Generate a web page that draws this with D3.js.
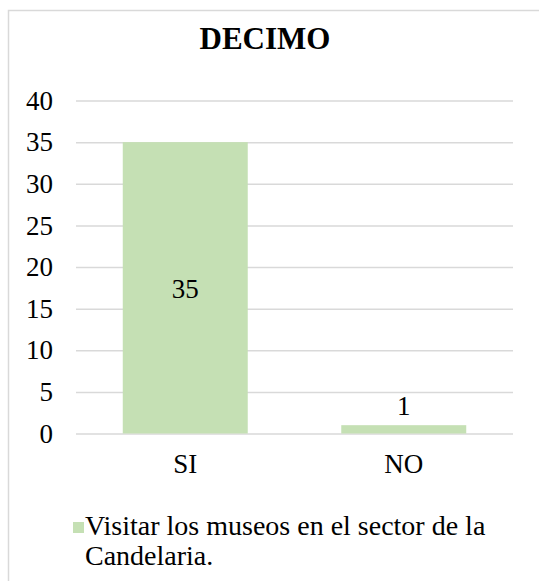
<!DOCTYPE html>
<html>
<head>
<meta charset="utf-8">
<script src="https://cdn.jsdelivr.net/npm/d3@7"></script>
<style>
  body { margin: 0; background: #fff; }
</style>
</head>
<body>
<div class="chart"></div>
<script>
const categories = ['SI', 'NO'];
const values = [35, 1];
const yTicks = [0, 5, 10, 15, 20, 25, 30, 35, 40];
const seriesName = ['Visitar los museos en el sector de la', 'Candelaria.'];
const title = 'DECIMO';

const font = 'Liberation Serif, Times New Roman, serif';

const width = 539,
  height = 581,
  margin = { top: 100.5, right: 26, bottom: 147.5, left: 76 },
  innerWidth = width - margin.left - margin.right,
  innerHeight = height - margin.top - margin.bottom;

const svg = d3.select('.chart')
  .append('svg')
  .attr('width', width)
  .attr('height', height)
  .attr('font-family', font);

// chart frame (runs past the right and bottom edge of the picture)
svg.append('path')
  .attr('d', `M8.5,${height}V10.5H${width}`)
  .attr('fill', 'none')
  .attr('stroke', '#d9d9d9')
  .attr('stroke-width', 1.5);

svg.append('text')
  .attr('x', 265)
  .attr('y', 49)
  .attr('text-anchor', 'middle')
  .attr('font-family', font)
  .attr('font-size', 31)
  .attr('font-weight', 'bold')
  .text(title);

const g = svg.append('g')
  .attr('transform', `translate(${margin.left}, ${margin.top})`);

const x = d3.scaleBand()
  .domain(categories)
  .range([0, innerWidth])
  .paddingInner(0.428)
  .paddingOuter(0.214);

const y = d3.scaleLinear()
  .domain([0, 40])
  .range([innerHeight, 0]);

const yAxis = g.append('g')
  .call(d3.axisLeft(y).tickValues(yTicks).tickSize(-innerWidth).tickPadding(23))
  .attr('font-family', font);
yAxis.select('.domain').remove();
yAxis.selectAll('line').attr('stroke', '#d9d9d9').attr('stroke-width', 1.5);
yAxis.selectAll('text').attr('font-size', 27).attr('fill', '#000');

const data = categories.map((c, i) => ({ key: c, value: values[i] }));

g.selectAll('rect.bar')
  .data(data)
  .enter()
  .append('rect')
  .attr('class', 'bar')
  .attr('x', d => x(d.key))
  .attr('width', x.bandwidth())
  .attr('y', d => y(d.value))
  .attr('height', d => innerHeight - y(d.value))
  .attr('fill', '#c5e0b4');

// data labels: inside the tall bar, above the short one
g.selectAll('text.label')
  .data(data)
  .enter()
  .append('text')
  .attr('class', 'label')
  .attr('x', d => x(d.key) + x.bandwidth() / 2)
  .attr('y', d => d.value > 5 ? (y(d.value) + innerHeight) / 2 + 10 : y(d.value) - 10)
  .attr('text-anchor', 'middle')
  .attr('font-family', font)
  .attr('font-size', 27)
  .text(d => d.value);

g.append('g')
  .attr('transform', `translate(0, ${innerHeight})`)
  .call(d3.axisBottom(x).tickSize(0).tickPadding(20))
  .attr('font-family', font)
  .call(a => a.select('.domain').remove())
  .selectAll('text')
  .attr('font-size', 27)
  .attr('fill', '#000');

// legend
const legend = svg.append('g').attr('transform', 'translate(73, 522)');
legend.append('rect')
  .attr('width', 11)
  .attr('height', 11)
  .attr('fill', '#c5e0b4');
legend.selectAll('text')
  .data(seriesName)
  .enter()
  .append('text')
  .attr('x', 12)
  .attr('y', (d, i) => 13 + i * 30)
  .attr('font-family', font)
  .attr('font-size', 28)
  .text(d => d);
</script>
</body>
</html>
